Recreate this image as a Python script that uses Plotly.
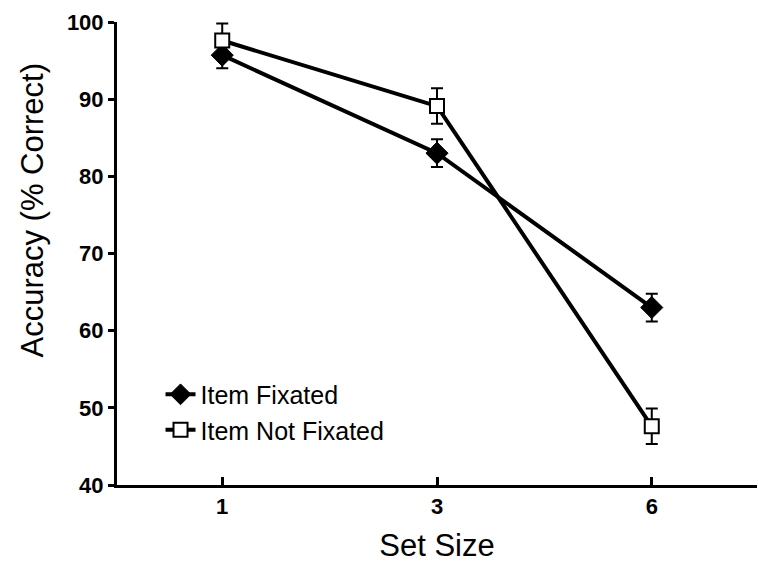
import plotly.graph_objects as go

# Set sizes shown on the x axis (evenly spaced categories)
set_sizes = ["1", "3", "6"]

# Mean accuracy (% correct) and error-bar half-widths
fixated_acc = [95.7, 83.0, 63.0]
fixated_err = [1.7, 1.8, 1.8]
not_fixated_acc = [97.6, 89.1, 47.6]
not_fixated_err = [2.2, 2.3, 2.3]

FONT = "Liberation Sans, Arial, Helvetica, sans-serif"

fig = go.Figure()

fig.add_trace(go.Scatter(
    x=set_sizes, y=fixated_acc, name="Item Fixated",
    mode="lines+markers",
    line=dict(color="black", width=4),
    marker=dict(symbol="diamond", size=17, color="black",
                line=dict(color="black", width=1)),
    error_y=dict(type="data", array=fixated_err, color="black",
                 thickness=2, width=6),
))

fig.add_trace(go.Scatter(
    x=set_sizes, y=not_fixated_acc, name="Item Not Fixated",
    mode="lines+markers",
    line=dict(color="black", width=4),
    marker=dict(symbol="square", size=14, color="white",
                line=dict(color="black", width=2)),
    error_y=dict(type="data", array=not_fixated_err, color="black",
                 thickness=2, width=6),
))

fig.update_layout(
    width=758, height=570,
    margin=dict(l=117, r=1, t=22, b=85),
    paper_bgcolor="white", plot_bgcolor="white",
    font=dict(family=FONT, color="black"),
    showlegend=True,
    legend=dict(
        x=0.068, y=0.245, xanchor="left", yanchor="top",
        bgcolor="rgba(0,0,0,0)",
        font=dict(family=FONT, size=25, color="black"),
        tracegroupgap=0,
    ),
    xaxis=dict(
        type="category",
        range=[-0.49, 2.49],
        showgrid=False, zeroline=False,
        showline=True, linecolor="black", linewidth=3,
        ticks="inside", ticklen=8, tickwidth=3, tickcolor="black",
        tickfont=dict(family=FONT, size=22, color="black", weight="bold"),
        title=dict(text="Set Size", font=dict(family=FONT, size=31),
                   standoff=16),
    ),
    yaxis=dict(
        range=[40, 100],
        tickvals=[40, 50, 60, 70, 80, 90, 100],
        showgrid=False, zeroline=False,
        showline=True, linecolor="black", linewidth=3,
        ticks="outside", ticklen=6, tickwidth=3, tickcolor="black",
        tickfont=dict(family=FONT, size=22, color="black", weight="bold"),
    ),
    annotations=[dict(
        text="Accuracy (% Correct)", textangle=-90,
        xref="paper", yref="paper",
        x=-0.132, y=0.594, xanchor="center", yanchor="middle",
        showarrow=False, font=dict(family=FONT, size=31, color="black"),
    )],
)

fig.write_html("out.html")
